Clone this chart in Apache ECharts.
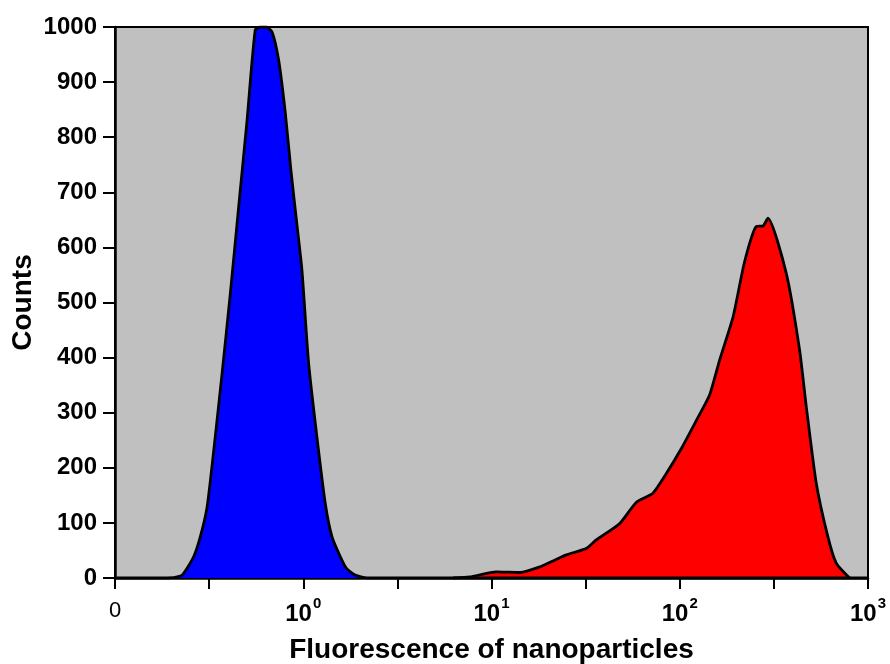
<!DOCTYPE html>
<html>
<head>
<meta charset="utf-8">
<script src="https://cdn.jsdelivr.net/npm/echarts@6/dist/echarts.min.js"></script>
<style>
  html, body { margin: 0; padding: 0; background: #fff; }
  #chart { width: 890px; height: 664px; }
</style>
</head>
<body>
<div id="chart"></div>
<script>
// blue peak (control), fluorescence vs counts
const blueX = [0.1, 0.19, 0.2226, 0.2317, 0.262, 0.284, 0.3085, 0.334, 0.3705, 0.410, 0.454, 0.503, 0.556, 0.591, 0.637, 0.683, 0.740, 0.803, 0.860, 0.926, 0.984, 1.067, 1.182, 1.308, 1.42, 1.572, 1.70, 1.887, 2.177, 1000]
const blueY = [0, 0, 3.6, 8.5, 39, 75, 129, 229, 371, 517, 674, 831, 995, 1000, 1000, 991, 940, 844, 740, 641, 559, 391, 256, 136, 75, 39, 17, 5.4, 0, 0]
// red peak (nanoparticles)
const redX = [6.25, 7.66, 10.6, 14.2, 18, 21.2, 25, 32, 36, 48, 59, 72, 85, 102, 123, 144, 163, 192, 221, 255, 277, 294, 368, 433, 470, 531, 612, 678, 798]
const redY = [0, 2, 11, 10, 20, 31, 42, 54, 69, 99, 138, 154, 190, 235, 287, 332, 396, 474, 574, 638, 639, 653, 553, 414, 311, 172, 75, 27, 0]
const yTicks = [0, 100, 200, 300, 400, 500, 600, 700, 800, 900, 1000]
const xExponents = {'1': '0', '10': '1', '100': '2', '1000': '3'}

const font = 'Liberation Sans, Arial, sans-serif'

function pairs(xs, ys) {
    return xs.map((x, i) => [x, ys[i]])
}

const chart = echarts.init(document.getElementById('chart'))
const option = {
    animation: false,
    grid: {
        left: 115,
        right: 22,
        top: 27,
        bottom: 86,
        outerBoundsMode: 'none',
        show: true,
        backgroundColor: '#c0c0c0',
        borderColor: '#000',
        borderWidth: 2
    },
    xAxis: [
        {
            type: 'log',
            logBase: 10,
            min: 0.1,
            max: 1000,
            name: 'Fluorescence of nanoparticles',
            nameLocation: 'middle',
            nameGap: 58,
            nameTextStyle: { fontFamily: font, fontWeight: 'bold', fontSize: 28, color: '#000' },
            axisLine: { show: false },
            axisTick: { show: false },
            splitLine: { show: false },
            axisLabel: {
                margin: 18,
                formatter: function (v) {
                    if (v < 0.5) return '{z|0}'
                    return '{n|10}{s|' + xExponents[String(Math.round(v))] + '}'
                },
                rich: {
                    z: { fontFamily: font, fontSize: 22, color: '#000', lineHeight: 30 },
                    n: { fontFamily: font, fontWeight: 'bold', fontSize: 24, color: '#000', lineHeight: 30, verticalAlign: 'bottom' },
                    s: { fontFamily: font, fontWeight: 'bold', fontSize: 15, color: '#000', lineHeight: 15, verticalAlign: 'top', padding: [0, 0, 0, 1] }
                }
            }
        },
        {
            // half-decade tick marks
            type: 'value',
            min: -1,
            max: 3,
            interval: 0.5,
            position: 'bottom',
            axisLine: { show: true, lineStyle: { color: '#000', width: 2.5 } },
            axisTick: { show: true, length: 11, lineStyle: { color: '#000', width: 2 } },
            axisLabel: { show: false },
            splitLine: { show: false }
        }
    ],
    yAxis: {
        type: 'value',
        min: yTicks[0],
        max: yTicks[yTicks.length - 1],
        interval: 100,
        name: 'Counts',
        nameLocation: 'middle',
        nameGap: 78,
        nameMoveOverlap: false,
        nameTextStyle: { fontFamily: font, fontWeight: 'bold', fontSize: 28, color: '#000' },
        axisLine: { show: true, onZero: false, lineStyle: { color: '#000', width: 2.5 } },
        axisTick: { show: true, length: 12, lineStyle: { color: '#000', width: 2 } },
        axisLabel: {
            fontFamily: font, fontWeight: 'bold', fontSize: 24, color: '#000', margin: 18,
            formatter: function (v) { return String(v) }
        },
        splitLine: { show: false }
    },
    series: [
        {
            name: 'control',
            type: 'line',
            xAxisIndex: 0,
            data: pairs(blueX, blueY),
            smooth: 0.2,
            showSymbol: false,
            lineStyle: { color: '#000', width: 2.8 },
            areaStyle: { color: '#0000ff', opacity: 1 },
            z: 2
        },
        {
            name: 'nanoparticles',
            type: 'line',
            xAxisIndex: 0,
            data: pairs(redX, redY),
            smooth: 0.2,
            showSymbol: false,
            lineStyle: { color: '#000', width: 2.8 },
            areaStyle: { color: '#ff0000', opacity: 1 },
            z: 2
        }
    ]
}
chart.setOption(option)
</script>
</body>
</html>
